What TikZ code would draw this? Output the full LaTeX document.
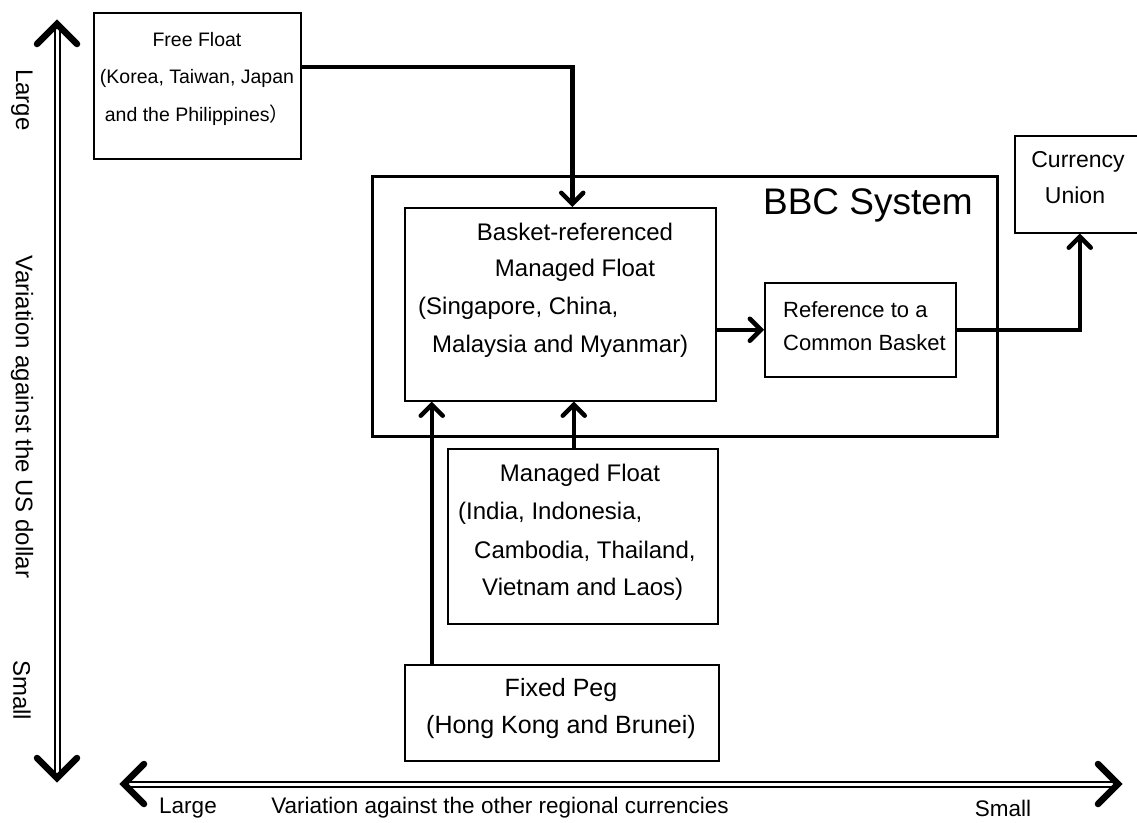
\documentclass[tikz,border=0pt]{standalone}
\usepackage{fontspec}
\setmainfont{Liberation Sans}
\newfontfamily\cjkfont{Noto Sans CJK SC}
\usetikzlibrary{arrows.meta}
\begin{document}
\begin{tikzpicture}[x=1pt,y=-1pt,
  box/.style={draw, line width=1.5pt, inner sep=0pt, anchor=north west},
  lbl/.style={font=\fontsize{24}{28}\selectfont, inner sep=0pt},
  fsz/.style={font=\fontsize{#1}{28}\selectfont},
  conn/.style={line width=4.5pt, -{Straight Barb[length=11pt,width=22pt,line cap=round]}},
  axisline/.style={draw, line width=2pt, double distance=3pt},
  tipst/.style={line width=6.5pt, line cap=round, line join=miter}]
\useasboundingbox (0,0) rectangle (1137,822);

% boxes
\node[box, minimum width=207pt, minimum height=146pt] (free) at (93,12) {};
\node[box, line width=3pt, minimum width=625pt, minimum height=260pt] (bbc) at (371,175) {};
\node[box, minimum width=311pt, minimum height=193pt] (basket) at (404,207) {};
\node[box, minimum width=191pt, minimum height=94pt] (ref) at (764,282) {};
\node[box, minimum width=130pt, minimum height=97pt] (union) at (1014,135) {};
\node[box, minimum width=270pt, minimum height=175pt] (managed) at (447,448) {};
\node[box, minimum width=314pt, minimum height=96pt] (fixed) at (404,664) {};

% texts
\node[lbl, fsz=19.5] (t1) at (197,40) {Free Float};
\node[lbl, fsz=19.5] (t2) at (197,78) {(Korea, Taiwan, Japan};
\node[lbl, fsz=19.5] (t3) at (197,115) {and the Philippines\cjkfont ）};
\node[lbl, fsz=37, anchor=east] (tbbc) at (973,205) {BBC System};
\node[lbl] (t4) at (575,232) {Basket-referenced};
\node[lbl] (t5) at (575,270) {Managed Float};
\node[lbl, anchor=west] (t6) at (418,308) {(Singapore, China,};
\node[lbl, anchor=west] (t7) at (432,346) {Malaysia and Myanmar)};
\node[lbl, fsz=22, anchor=west] (t8) at (783,310) {Reference to a};
\node[lbl, fsz=22, anchor=west] (t9) at (783,343) {Common Basket};
\node[lbl, fsz=23] (t10) at (1078,162) {Currency};
\node[lbl, fsz=23] (t11) at (1075,195) {Union};
\node[lbl] (t12) at (580,475) {Managed Float};
\node[lbl, anchor=west] (t13) at (458,513) {(India, Indonesia,};
\node[lbl, anchor=west] (t14) at (474,551) {Cambodia, Thailand,};
\node[lbl, anchor=west] (t15) at (482,589) {Vietnam and Laos)};
\node[lbl, fsz=25] (t16) at (561,690) {Fixed Peg};
\node[lbl, fsz=25] (t17) at (561,727) {(Hong Kong and Brunei)};

% axis labels
\node[lbl, rotate=-90] (a1) at (22,100) {Large};
\node[lbl, rotate=-90] (a2) at (22,417) {Variation against the US dollar};
\node[lbl, rotate=-90] (a3) at (22,690) {Small};
\node[lbl, fsz=22.5] (a4) at (188,808) {Large};
\node[lbl, fsz=22.5] (a5) at (500,808) {Variation against the other regional currencies};
\node[lbl, fsz=22.5] (a6) at (1003,808) {Small};

% connectors
\draw[conn] ([yshift=19pt]free.east) -| ([xshift=12pt]basket.north);
\draw[conn] (basket.east |- ref.west) -- (ref.west);
\draw[conn] (ref.east) -| (union.south);
\draw[conn] ([xshift=-9pt]managed.north) -- ([xshift=-9pt]managed.north |- basket.south);
\draw[conn] ([xshift=-130pt]fixed.north) -- ([xshift=-130pt]fixed.north |- basket.south);

% axes
\coordinate (vt) at (57,24);
\coordinate (vb) at (57,778);
\coordinate (hl) at (124,784);
\coordinate (hr) at (1118,784);
\draw[axisline, shorten <=4pt, shorten >=4pt] (vt) -- (vb);
\draw[axisline, shorten <=4pt, shorten >=4pt] (hl) -- (hr);
\draw[tipst] ([shift={(-20,20)}]vt) -- (vt) -- ([shift={(20,20)}]vt);
\draw[tipst] ([shift={(-20,-20)}]vb) -- (vb) -- ([shift={(20,-20)}]vb);
\draw[tipst] ([shift={(20,-20)}]hl) -- (hl) -- ([shift={(20,20)}]hl);
\draw[tipst] ([shift={(-20,-20)}]hr) -- (hr) -- ([shift={(-20,20)}]hr);
\end{tikzpicture}
\end{document}
